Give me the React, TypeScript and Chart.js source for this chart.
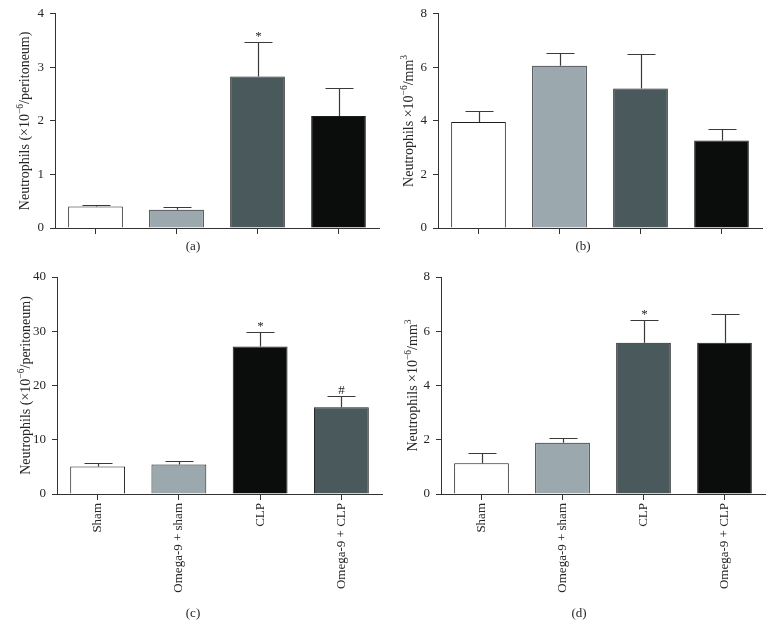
import React, { useEffect, useRef } from "react";
import { Chart, registerables } from "chart.js";

Chart.register(...registerables);

// ---------- Data ----------
const categories = ["Sham", "Omega-9 + sham", "CLP", "Omega-9 + CLP"];

// (a) Neutrophils (x10^-6/peritoneum)
const meansA = [0.4, 0.34, 2.83, 2.09];
const errorsA = [0.03, 0.06, 0.65, 0.52];
const marksA = ["", "", "*", ""];
const ticksA = { max: 4, step: 1 };

// (b) Neutrophils x10^-6/mm3
const meansB = [3.96, 6.06, 5.21, 3.27];
const errorsB = [0.42, 0.48, 1.27, 0.43];
const marksB = ["", "", "", ""];
const ticksB = { max: 8, step: 2 };

// (c) Neutrophils (x10^-6/peritoneum)
const meansC = [5.06, 5.43, 27.2, 16.0];
const errorsC = [0.67, 0.61, 2.75, 2.1];
const marksC = ["", "", "*", "#"];
const ticksC = { max: 40, step: 10 };

// (d) Neutrophils x10^-6/mm3
const meansD = [1.13, 1.89, 5.58, 5.58];
const errorsD = [0.39, 0.16, 0.85, 1.05];
const marksD = ["", "", "*", ""];
const ticksD = { max: 8, step: 2 };

const WHITE = "#ffffff";
const LIGHT = "#9ba9ae";
const DARK = "#4a595c";
const BLACK = "#0a0d0b";

const colorsA = [WHITE, LIGHT, DARK, BLACK];
const colorsB = [WHITE, LIGHT, DARK, BLACK];
const colorsC = [WHITE, LIGHT, BLACK, DARK];
const colorsD = [WHITE, LIGHT, DARK, BLACK];

type Seg = { t: string; sup?: boolean };
const titlePeritoneum: Seg[] = [
  { t: "Neutrophils (\u00d710" },
  { t: "\u22126", sup: true },
  { t: "/peritoneum)" },
];
const titleMm3: Seg[] = [
  { t: "Neutrophils \u00d710" },
  { t: "\u22126", sup: true },
  { t: "/mm" },
  { t: "3", sup: true },
];

const FONT = '"Liberation Serif", "Times New Roman", serif';
const TEXT = "#262626";
const AXIS = "#333333";

type Cfg = {
  left: number;
  top: number;
  w: number;
  h: number;
  yAxisWidth: number;
  padTop: number;
  padRight: number;
  xAxisHeight: number;
  showLabels: boolean;
  means: number[];
  errors: number[];
  marks: string[];
  colors: string[];
  max: number;
  step: number;
  title: Seg[];
  titleX: number;
  caption: string;
  captionX: number;
  captionY: number;
};

function drawRich(ctx: CanvasRenderingContext2D, segs: Seg[], cx: number, cy: number, size: number) {
  const supSize = size * 0.68;
  const mainFont = `${size}px ${FONT}`;
  const supFont = `${supSize}px ${FONT}`;
  ctx.save();
  ctx.translate(cx, cy);
  ctx.rotate(-Math.PI / 2);
  let total = 0;
  const widths = segs.map((s) => {
    ctx.font = s.sup ? supFont : mainFont;
    const w = ctx.measureText(s.t).width;
    total += w;
    return w;
  });
  let x = -total / 2;
  ctx.fillStyle = TEXT;
  ctx.textBaseline = "alphabetic";
  ctx.textAlign = "left";
  const base = size * 0.33;
  segs.forEach((s, i) => {
    ctx.font = s.sup ? supFont : mainFont;
    ctx.fillText(s.t, x, s.sup ? base - size * 0.42 : base);
    x += widths[i];
  });
  ctx.restore();
}

function Panel({ cfg }: { cfg: Cfg }) {
  const ref = useRef<HTMLCanvasElement>(null);
  useEffect(() => {
    const extras = {
      id: "extras",
      afterDatasetsDraw(chart: any) {
        const ctx: CanvasRenderingContext2D = chart.ctx;
        const meta = chart.getDatasetMeta(0);
        const ys = chart.scales.y;
        ctx.save();
        meta.data.forEach((el: any, i: number) => {
          const x = Math.round(el.x) + 0.5;
          const top = el.y;
          const ey = Math.round(ys.getPixelForValue(cfg.means[i] + cfg.errors[i])) + 0.5;
          ctx.strokeStyle = "#3a3a3a";
          ctx.lineWidth = 1.2;
          ctx.beginPath();
          ctx.moveTo(x, top);
          ctx.lineTo(x, ey);
          ctx.moveTo(x - 14, ey);
          ctx.lineTo(x + 14, ey);
          ctx.stroke();
          if (cfg.marks[i]) {
            ctx.fillStyle = TEXT;
            ctx.font = `13px ${FONT}`;
            ctx.textAlign = "center";
            ctx.textBaseline = "alphabetic";
            ctx.fillText(cfg.marks[i], x, ey - 3);
          }
        });
        ctx.restore();
      },
      afterDraw(chart: any) {
        const ctx: CanvasRenderingContext2D = chart.ctx;
        const ca = chart.chartArea;
        drawRich(ctx, cfg.title, cfg.titleX, (ca.top + ca.bottom) / 2, 14);
        ctx.save();
        ctx.fillStyle = TEXT;
        ctx.font = `13px ${FONT}`;
        ctx.textAlign = "center";
        ctx.textBaseline = "middle";
        ctx.fillText(cfg.caption, cfg.captionX, cfg.captionY);
        ctx.restore();
      },
    };
    const chart = new Chart(ref.current as HTMLCanvasElement, {
      type: "bar",
      data: {
        labels: categories,
        datasets: [
          {
            data: cfg.means,
            backgroundColor: cfg.colors,
            borderColor: "#1c1c1c",
            borderWidth: 1,
            barPercentage: 0.675,
            categoryPercentage: 1,
          },
        ],
      },
      options: {
        animation: false,
        responsive: false,
        maintainAspectRatio: false,
        layout: { padding: { top: cfg.padTop, right: cfg.padRight, left: 0, bottom: 0 } },
        plugins: { legend: { display: false }, tooltip: { enabled: false } },
        scales: {
          x: {
            type: "category",
            offset: true,
            grid: {
              display: true,
              offset: false,
              drawOnChartArea: false,
              drawTicks: true,
              tickLength: 6,
              color: AXIS,
              lineWidth: 1,
            },
            border: { display: true, color: AXIS, width: 1 },
            ticks: {
              display: cfg.showLabels,
              minRotation: 90,
              maxRotation: 90,
              autoSkip: false,
              padding: 3,
              color: TEXT,
              font: { family: FONT, size: 13 },
            },
            afterFit: (s: any) => {
              s.height = cfg.xAxisHeight;
            },
          },
          y: {
            min: 0,
            max: cfg.max,
            ticks: {
              stepSize: cfg.step,
              padding: 6,
              color: TEXT,
              font: { family: FONT, size: 13 },
            },
            grid: {
              display: true,
              drawOnChartArea: false,
              drawTicks: true,
              tickLength: 5,
              color: AXIS,
              lineWidth: 1,
            },
            border: { display: true, color: AXIS, width: 1 },
            afterFit: (s: any) => {
              s.width = cfg.yAxisWidth;
            },
          },
        },
      } as any,
      plugins: [extras],
    });
    return () => chart.destroy();
  }, []);
  return (
    <canvas
      ref={ref}
      width={cfg.w}
      height={cfg.h}
      style={{ position: "absolute", left: cfg.left, top: cfg.top, width: cfg.w, height: cfg.h }}
    />
  );
}

const panels: Cfg[] = [
  {
    left: 0, top: 0, w: 387, h: 262,
    yAxisWidth: 55, padTop: 12, padRight: 8, xAxisHeight: 34, showLabels: false,
    means: meansA, errors: errorsA, marks: marksA, colors: colorsA,
    max: ticksA.max, step: ticksA.step, title: titlePeritoneum, titleX: 24,
    caption: "(a)", captionX: 193, captionY: 247,
  },
  {
    left: 387, top: 0, w: 387, h: 262,
    yAxisWidth: 51, padTop: 12, padRight: 12, xAxisHeight: 34, showLabels: false,
    means: meansB, errors: errorsB, marks: marksB, colors: colorsB,
    max: ticksB.max, step: ticksB.step, title: titleMm3, titleX: 21,
    caption: "(b)", captionX: 196, captionY: 247,
  },
  {
    left: 0, top: 262, w: 387, h: 379,
    yAxisWidth: 57, padTop: 15, padRight: 5, xAxisHeight: 147, showLabels: true,
    means: meansC, errors: errorsC, marks: marksC, colors: colorsC,
    max: ticksC.max, step: ticksC.step, title: titlePeritoneum, titleX: 25,
    caption: "(c)", captionX: 193, captionY: 352,
  },
  {
    left: 387, top: 262, w: 387, h: 379,
    yAxisWidth: 54, padTop: 15, padRight: 9, xAxisHeight: 147, showLabels: true,
    means: meansD, errors: errorsD, marks: marksD, colors: colorsD,
    max: ticksD.max, step: ticksD.step, title: titleMm3, titleX: 25,
    caption: "(d)", captionX: 192, captionY: 352,
  },
];

export default function App() {
  return (
    <div style={{ position: "absolute", left: 0, top: 0, width: 774, height: 641, background: "#fff" }}>
      {panels.map((p, i) => (
        <Panel key={i} cfg={p} />
      ))}
    </div>
  );
}
